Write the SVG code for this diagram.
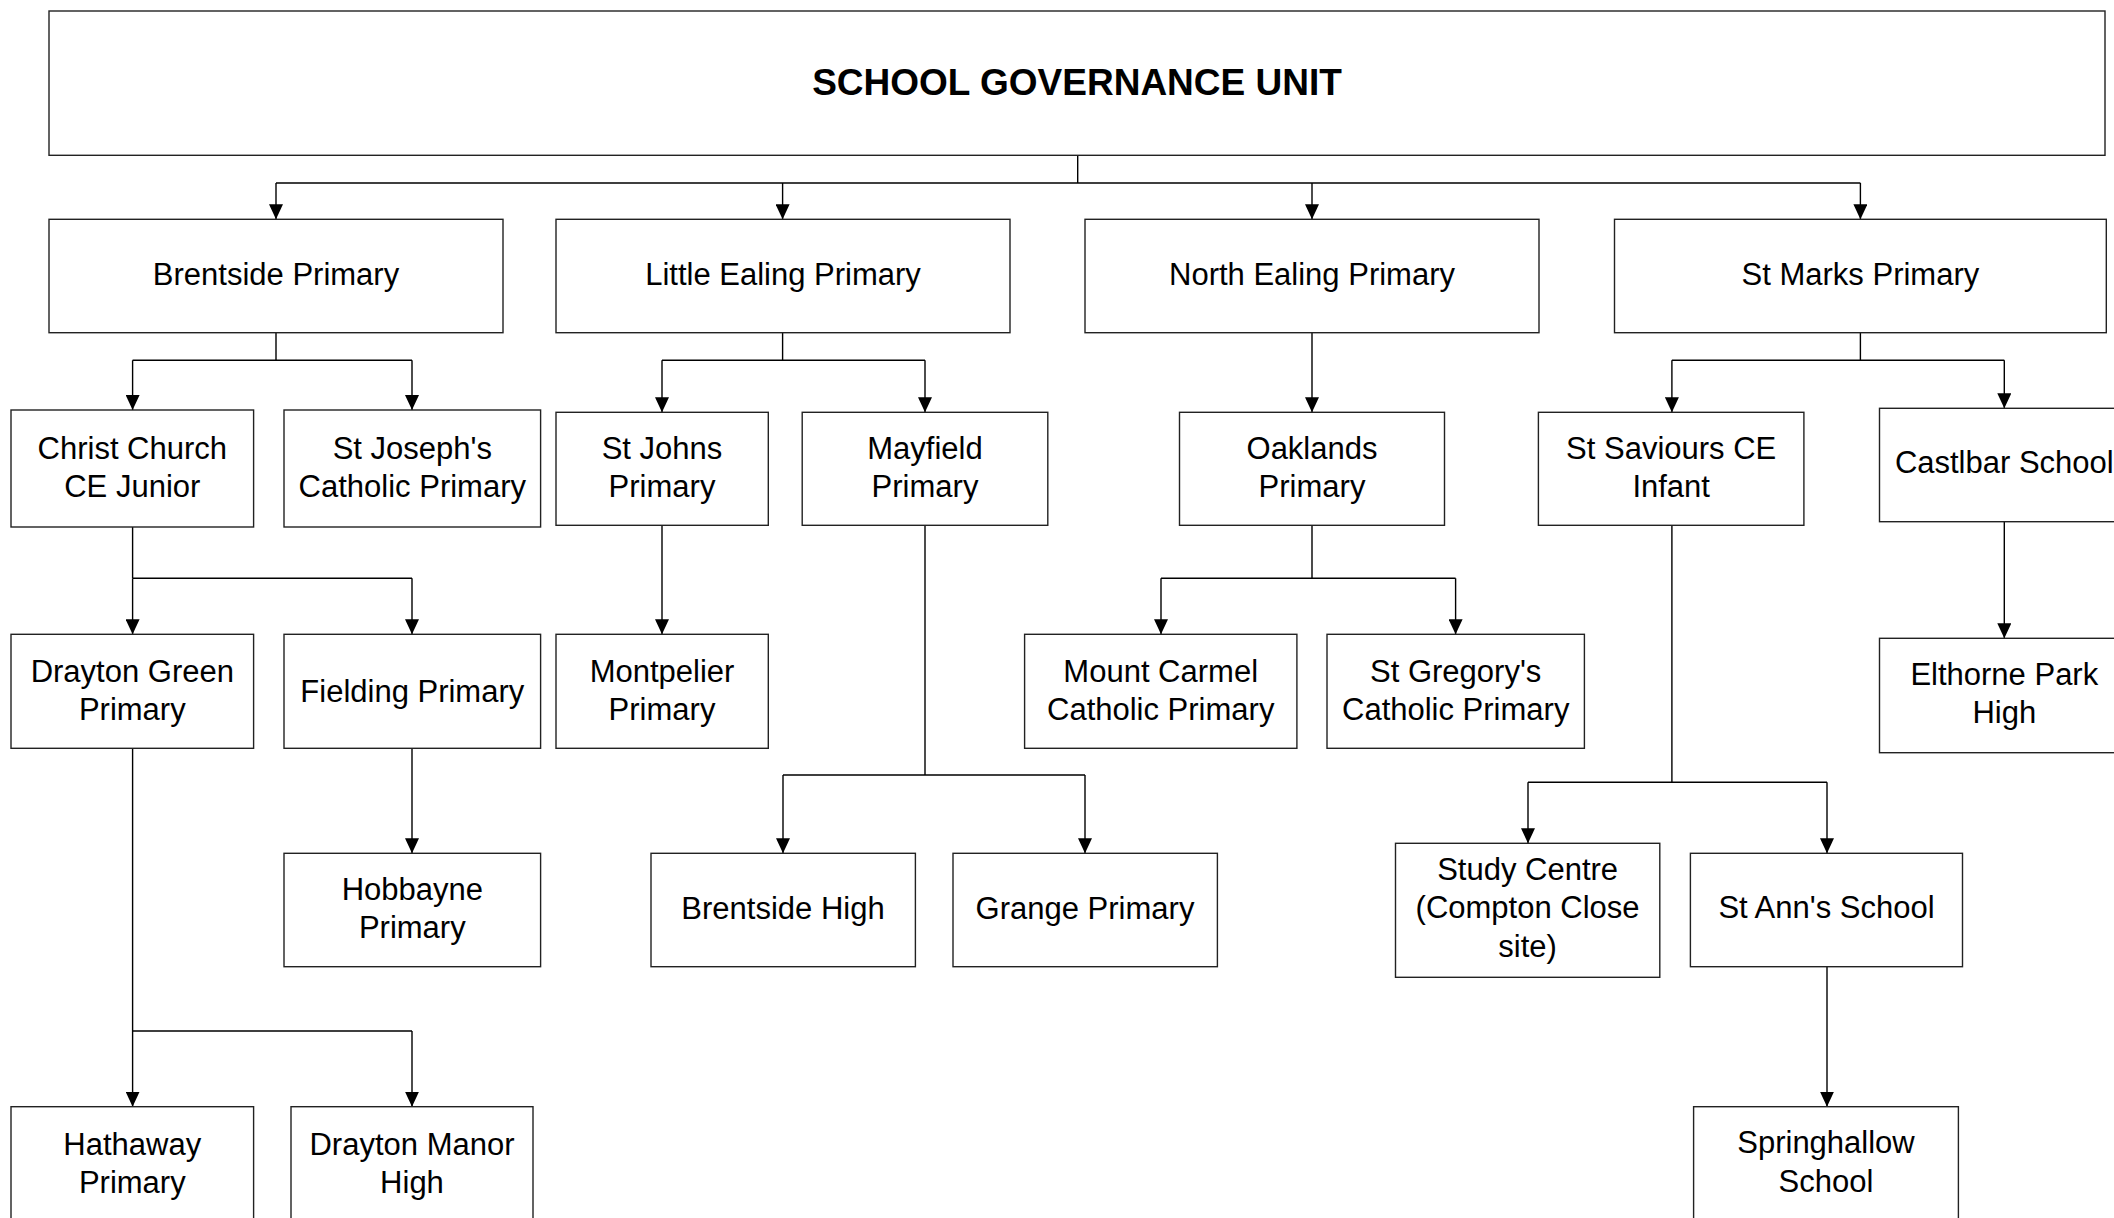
<svg xmlns="http://www.w3.org/2000/svg" width="2114" height="1218" viewBox="0 0 2114 1218">
<style>
  .box { fill: #ffffff; stroke: #222222; stroke-width: 1.4; }
  .t { font-family: "Liberation Sans", Arial, sans-serif; font-size: 31px; fill: #000000; text-anchor: middle; }
  .title { font-family: "Liberation Sans", Arial, sans-serif; font-size: 37px; font-weight: bold; fill: #000000; text-anchor: middle; }
  .c { fill: none; stroke: #000000; stroke-width: 1.4; }
  .a { fill: none; stroke: #000000; stroke-width: 1.4; marker-end: url(#arr); }
</style>
<defs>
  <marker id="arr" viewBox="0 0 15 14" refX="15" refY="7" markerWidth="15" markerHeight="14" markerUnits="userSpaceOnUse" orient="auto">
    <path d="M0,0 L15,7 L0,14 z" fill="#000000"/>
  </marker>
</defs>
<rect width="2114" height="1218" fill="#ffffff"/>

<g id="connectors">
  <path class="c" d="M1077.7,155.3 V183 M276,183 H1860.4"/>
  <path class="a" d="M276,183 V219.3"/>
  <path class="a" d="M782.6,183 V219.3"/>
  <path class="a" d="M1312,183 V219.3"/>
  <path class="a" d="M1860.4,183 V219.3"/>

  <path class="c" d="M276,332.7 V360.3 M132.6,360.3 H412"/>
  <path class="a" d="M132.6,360.3 V410"/>
  <path class="a" d="M412,360.3 V410"/>

  <path class="c" d="M782.6,332.7 V360.3 M662,360.3 H925"/>
  <path class="a" d="M662,360.3 V412.3"/>
  <path class="a" d="M925,360.3 V412.3"/>

  <path class="a" d="M1312,332.7 V412.3"/>

  <path class="c" d="M1860.4,332.7 V360.3 M1671.9,360.3 H2004.3"/>
  <path class="a" d="M1671.9,360.3 V412.3"/>
  <path class="a" d="M2004.3,360.3 V408.3"/>

  <path class="c" d="M132.6,527 V578.3 M132.6,578.3 H412"/>
  <path class="a" d="M132.6,578.3 V634.3"/>
  <path class="a" d="M412,578.3 V634.3"/>

  <path class="a" d="M662,525.3 V634.3"/>

  <path class="c" d="M925,525.3 V775 M783,775 H1085"/>
  <path class="a" d="M783,775 V853.3"/>
  <path class="a" d="M1085,775 V853.3"/>

  <path class="c" d="M1312,525.3 V578.3 M1161,578.3 H1455.6"/>
  <path class="a" d="M1161,578.3 V634.3"/>
  <path class="a" d="M1455.6,578.3 V634.3"/>

  <path class="c" d="M1671.9,525.3 V782.3 M1528,782.3 H1827"/>
  <path class="a" d="M1528,782.3 V843.3"/>
  <path class="a" d="M1827,782.3 V853.3"/>

  <path class="a" d="M2004.3,521.7 V638.3"/>

  <path class="c" d="M132.6,748.3 V1031 M132.6,1031 H412"/>
  <path class="a" d="M132.6,1031 V1106.7"/>
  <path class="a" d="M412,1031 V1106.7"/>

  <path class="a" d="M412,748.3 V853.3"/>

  <path class="a" d="M1827,966.7 V1106.7"/>
</g>

<g id="school-governance-unit">
  <rect class="box" x="49" y="11" width="2056" height="144.3"/>
  <text class="title" x="1077" y="95">SCHOOL GOVERNANCE UNIT</text>
</g>
<g id="brentside-primary">
  <rect class="box" x="49" y="219.3" width="454" height="113.4"/>
  <text class="t" x="276" y="285">Brentside Primary</text>
</g>
<g id="little-ealing-primary">
  <rect class="box" x="556" y="219.3" width="454" height="113.4"/>
  <text class="t" x="783" y="285">Little Ealing Primary</text>
</g>
<g id="north-ealing-primary">
  <rect class="box" x="1085" y="219.3" width="454" height="113.4"/>
  <text class="t" x="1312" y="285">North Ealing Primary</text>
</g>
<g id="st-marks-primary">
  <rect class="box" x="1614.5" y="219.3" width="491.8" height="113.4"/>
  <text class="t" x="1860.4" y="285">St Marks Primary</text>
</g>

<g id="christ-church">
  <rect class="box" x="11" y="410" width="242.6" height="117"/>
  <text class="t" x="132.3" y="459">Christ Church</text>
  <text class="t" x="132.3" y="496.7">CE Junior</text>
</g>
<g id="st-josephs">
  <rect class="box" x="284" y="410" width="256.6" height="117"/>
  <text class="t" x="412.3" y="459">St Joseph's</text>
  <text class="t" x="412.3" y="496.7">Catholic Primary</text>
</g>
<g id="st-johns">
  <rect class="box" x="556" y="412.3" width="212.3" height="113"/>
  <text class="t" x="662" y="459">St Johns</text>
  <text class="t" x="662" y="496.7">Primary</text>
</g>
<g id="mayfield">
  <rect class="box" x="802.2" y="412.3" width="245.6" height="113"/>
  <text class="t" x="925" y="459">Mayfield</text>
  <text class="t" x="925" y="496.7">Primary</text>
</g>
<g id="oaklands">
  <rect class="box" x="1179.5" y="412.3" width="265" height="113"/>
  <text class="t" x="1312" y="459">Oaklands</text>
  <text class="t" x="1312" y="496.7">Primary</text>
</g>
<g id="st-saviours">
  <rect class="box" x="1538.4" y="412.3" width="265.5" height="113"/>
  <text class="t" x="1671.2" y="459">St Saviours CE</text>
  <text class="t" x="1671.2" y="496.7">Infant</text>
</g>
<g id="castlbar">
  <rect class="box" x="1879.5" y="408.3" width="250" height="113.4"/>
  <text class="t" x="2004.3" y="473.3">Castlbar School</text>
</g>

<g id="drayton-green">
  <rect class="box" x="11" y="634.3" width="242.6" height="114"/>
  <text class="t" x="132.3" y="681.7">Drayton Green</text>
  <text class="t" x="132.3" y="720">Primary</text>
</g>
<g id="fielding">
  <rect class="box" x="284" y="634.3" width="256.6" height="114"/>
  <text class="t" x="412.3" y="701.7">Fielding Primary</text>
</g>
<g id="montpelier">
  <rect class="box" x="556" y="634.3" width="212.3" height="114"/>
  <text class="t" x="662" y="681.7">Montpelier</text>
  <text class="t" x="662" y="720">Primary</text>
</g>
<g id="mount-carmel">
  <rect class="box" x="1024.6" y="634.3" width="272.3" height="114"/>
  <text class="t" x="1160.7" y="681.7">Mount Carmel</text>
  <text class="t" x="1160.7" y="720">Catholic Primary</text>
</g>
<g id="st-gregorys">
  <rect class="box" x="1327" y="634.3" width="257.4" height="114"/>
  <text class="t" x="1455.7" y="681.7">St Gregory's</text>
  <text class="t" x="1455.7" y="720">Catholic Primary</text>
</g>
<g id="elthorne-park">
  <rect class="box" x="1879.5" y="638.3" width="250" height="114.4"/>
  <text class="t" x="2004.3" y="685">Elthorne Park</text>
  <text class="t" x="2004.3" y="723.3">High</text>
</g>

<g id="hobbayne">
  <rect class="box" x="284" y="853.3" width="256.6" height="113.4"/>
  <text class="t" x="412.3" y="900">Hobbayne</text>
  <text class="t" x="412.3" y="938.3">Primary</text>
</g>
<g id="brentside-high">
  <rect class="box" x="651" y="853.3" width="264.4" height="113.4"/>
  <text class="t" x="783" y="919">Brentside High</text>
</g>
<g id="grange-primary">
  <rect class="box" x="953" y="853.3" width="264.4" height="113.4"/>
  <text class="t" x="1085" y="919">Grange Primary</text>
</g>
<g id="study-centre">
  <rect class="box" x="1395.5" y="843.3" width="264.3" height="134"/>
  <text class="t" x="1527.6" y="880">Study Centre</text>
  <text class="t" x="1527.6" y="918.3">(Compton Close</text>
  <text class="t" x="1527.6" y="956.7">site)</text>
</g>
<g id="st-anns">
  <rect class="box" x="1690.4" y="853.3" width="272.1" height="113.4"/>
  <text class="t" x="1826.5" y="918.3">St Ann's School</text>
</g>

<g id="hathaway">
  <rect class="box" x="11" y="1106.7" width="242.6" height="114"/>
  <text class="t" x="132.3" y="1155">Hathaway</text>
  <text class="t" x="132.3" y="1193.3">Primary</text>
</g>
<g id="drayton-manor">
  <rect class="box" x="291" y="1106.7" width="242" height="114"/>
  <text class="t" x="412" y="1155">Drayton Manor</text>
  <text class="t" x="412" y="1193.3">High</text>
</g>
<g id="springhallow">
  <rect class="box" x="1693.6" y="1106.7" width="264.8" height="114"/>
  <text class="t" x="1826" y="1153.3">Springhallow</text>
  <text class="t" x="1826" y="1191.7">School</text>
</g>
</svg>
